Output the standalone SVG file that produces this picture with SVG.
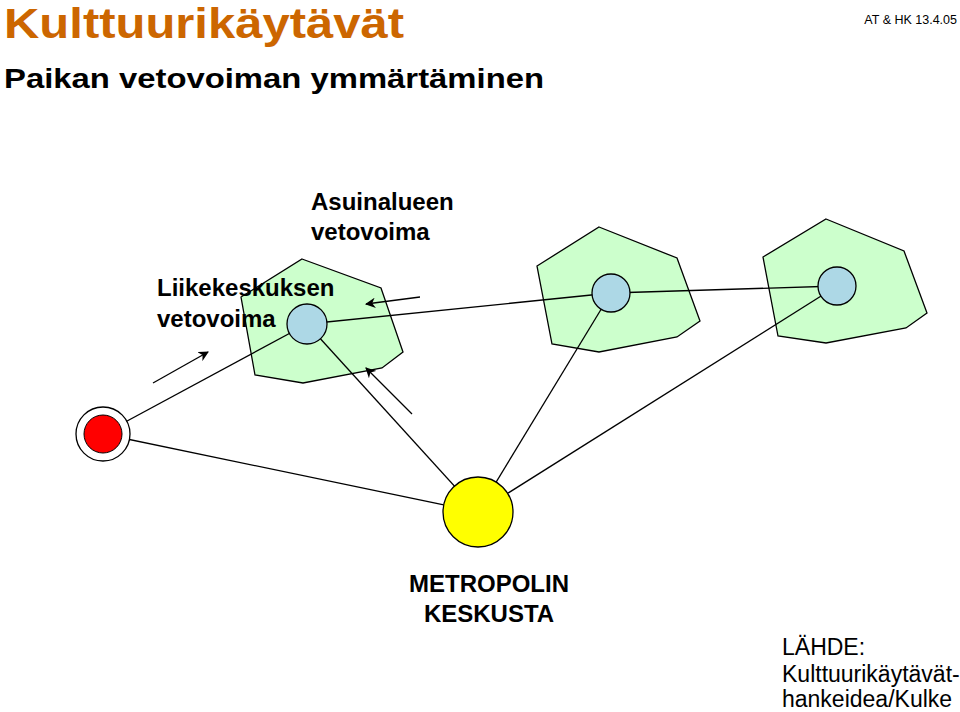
<svg xmlns="http://www.w3.org/2000/svg" width="960" height="712" viewBox="0 0 960 712">
<style>
text{font-family:"Liberation Sans",Arial,sans-serif}
.b{font-weight:bold;font-size:24px;fill:#000}
.area{fill:#ccffcc;stroke:#000;stroke-width:1.3}
.hub{fill:#add8e6;stroke:#000;stroke-width:1.3}
.c{stroke:#000;stroke-width:1.3;fill:none}
</style>
<defs><marker id="ah" viewBox="0 0 10 10" refX="9" refY="5" markerWidth="8" markerHeight="8" orient="auto"><path d="M0,0L10,5L0,10L3,5z" fill="#000"/></marker></defs>
<rect width="960" height="712" fill="#fff"/>
<text x="4" y="38" font-size="42" font-weight="bold" fill="#cc6600" textLength="400" lengthAdjust="spacingAndGlyphs">Kulttuurikäytävät</text>
<text x="4" y="88" font-size="28" font-weight="bold" fill="#000" textLength="540" lengthAdjust="spacingAndGlyphs">Paikan vetovoiman ymmärtäminen</text>
<text x="957" y="24" font-size="12.5" text-anchor="end" fill="#000">AT &amp; HK 13.4.05</text>
<g id="area1"><polygon class="area" points="302,259 381,288 403,352 382,368 303,383 255,375 241,297"/></g>
<g id="area2"><polygon class="area" points="599,227 677,258 700,321 677,337 599,352 552,344 537,266"/></g>
<g id="area3"><polygon class="area" points="826,219 904,251 927,313 906,328 826,343 778,336 763,257"/></g>
<g id="connectors">
<line class="c" x1="103" y1="434" x2="307" y2="324"/>
<line class="c" x1="103" y1="434" x2="478" y2="512"/>
<line class="c" x1="307" y1="324" x2="478" y2="512"/>
<line class="c" x1="307" y1="324" x2="611" y2="293"/>
<line class="c" x1="611" y1="293" x2="478" y2="512"/>
<line class="c" x1="611" y1="293" x2="837" y2="286"/>
<line class="c" x1="837" y1="286" x2="478" y2="512"/>
<line class="c" x1="153" y1="383" x2="208" y2="352" marker-end="url(#ah)"/>
<line class="c" x1="420" y1="297" x2="366" y2="304" marker-end="url(#ah)"/>
<line class="c" x1="412" y1="414" x2="366" y2="368" marker-end="url(#ah)"/>
</g>
<g id="hub1"><circle class="hub" cx="307" cy="324" r="20"/></g>
<g id="hub2"><circle class="hub" cx="611" cy="293" r="19"/></g>
<g id="hub3"><circle class="hub" cx="837" cy="286" r="19"/></g>
<g id="shop"><circle cx="103" cy="434" r="27" fill="#fff" stroke="#000" stroke-width="1.3"/><circle cx="103" cy="434" r="19" fill="#ff0000" stroke="#000" stroke-width="1"/></g>
<g id="center"><circle cx="478" cy="512" r="35" fill="#ffff00" stroke="#000" stroke-width="1.3"/></g>
<g id="labels">
<text class="b" x="311" y="210">Asuinalueen</text>
<text class="b" x="311" y="240">vetovoima</text>
<text class="b" x="157" y="296">Liikekeskuksen</text>
<text class="b" x="157" y="327">vetovoima</text>
<text class="b" x="489" y="592" text-anchor="middle" font-size="25">METROPOLIN</text>
<text class="b" x="489" y="622" text-anchor="middle" font-size="25">KESKUSTA</text>
<text x="782" y="655" font-size="23">LÄHDE:</text>
<text x="782" y="682" font-size="23">Kulttuurikäytävät-</text>
<text x="782" y="707" font-size="23">hankeidea/Kulke</text>
</g>
</svg>
